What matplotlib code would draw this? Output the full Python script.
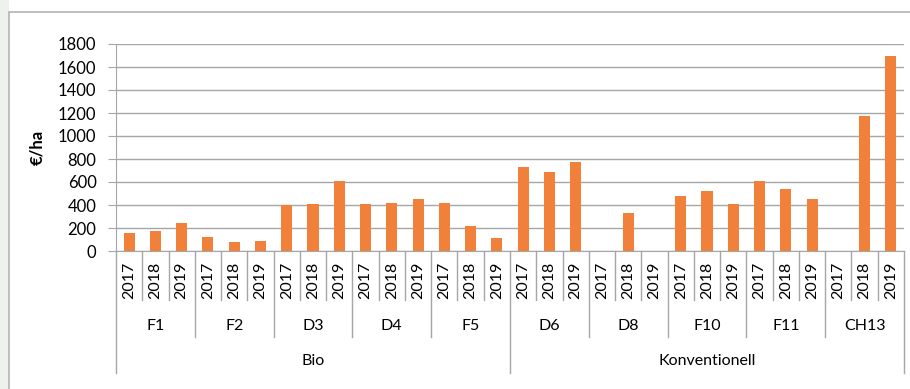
import matplotlib.pyplot as plt
import matplotlib.patches as mpatches
import numpy as np

# Kosten je Betrieb und Jahr (€/ha), fehlende Jahre als nan
years = ["2017", "2018", "2019"]
farms = ["F1", "F2", "D3", "D4", "F5", "D6", "D8", "F10", "F11", "CH13"]
systems = ["Bio", "Konventionell"]
farms_per_system = [5, 5]

costs_2017 = [160, 125, 400, 410, 415, 730, np.nan, 475, 605, np.nan]
costs_2018 = [175, 80, 410, 415, 215, 685, 330, 520, 540, 1175]
costs_2019 = [240, 90, 605, 455, 115, 775, np.nan, 410, 450, 1695]

values = []
for a, b, c in zip(costs_2017, costs_2018, costs_2019):
    values += [a, b, c]
values = np.array(values, dtype=float)
x = np.arange(len(values))

plt.rcParams["font.family"] = ["Lato", "DejaVu Sans"]
grey = "#a6a6a6"

fig = plt.figure(figsize=(9.1, 3.89), dpi=100)

# Rahmen der Folie und leicht getönter Rand links
fig.patches.append(mpatches.Rectangle((0, 0), 8.5 / 910, 1, transform=fig.transFigure,
                                      facecolor="#eef2ec", edgecolor="none", zorder=-2))
fig.patches.append(mpatches.Rectangle((8.5 / 910, -0.05), 1.0, 1 - 12 / 389 + 0.05,
                                      transform=fig.transFigure, facecolor="white",
                                      edgecolor="#b4b4b4", linewidth=1.2, zorder=-1))

ax = fig.add_axes([116 / 910, 1 - 251 / 389, 788 / 910, 207 / 389])
ax.set_zorder(1)
ax.patch.set_visible(False)
ax.bar(x, values, width=0.42, color="#f0803a", zorder=3)

ax.set_xlim(-0.5, len(values) - 0.5)
ax.set_ylim(0, 1800)
ax.set_yticks(np.arange(0, 1801, 200))
ax.tick_params(axis="y", labelsize=12, length=6, color=grey, pad=8)
ax.set_xticks([])
ax.grid(axis="y", color=grey, linewidth=1, zorder=0)
for side in ["top", "right"]:
    ax.spines[side].set_visible(False)
for side in ["left", "bottom"]:
    ax.spines[side].set_color(grey)
ax.set_ylabel("€/ha", fontsize=12, fontweight="bold", labelpad=9)

# Mehrstufige Kategorienachse: Jahr / Betrieb / System
tr = ax.get_xaxis_transform()
y_year, y_farm, y_sys = -0.236, -0.415, -0.589

for i, v in enumerate(x):
    ax.text(v, -0.14, years[i % 3], rotation=90, ha="center", va="center",
            fontsize=11.5, transform=tr)
for i in range(len(values) + 1):
    bottom = y_year
    if i % 3 == 0:
        bottom = y_farm
    if i in (0, 15, 30):
        bottom = y_sys
    ax.plot([i - 0.5, i - 0.5], [0, bottom], color=grey, linewidth=1,
            transform=tr, clip_on=False)

for j, farm in enumerate(farms):
    ax.text(3 * j + 1, -0.362, farm, ha="center", va="center", fontsize=11.5,
            transform=tr)

start = 0
for system, n in zip(systems, farms_per_system):
    mid = start + 3 * n / 2 - 0.5
    ax.text(mid, -0.531, system, ha="center", va="center", fontsize=11.5,
            transform=tr)
    start += 3 * n

fig.savefig("out.png", dpi=100)
